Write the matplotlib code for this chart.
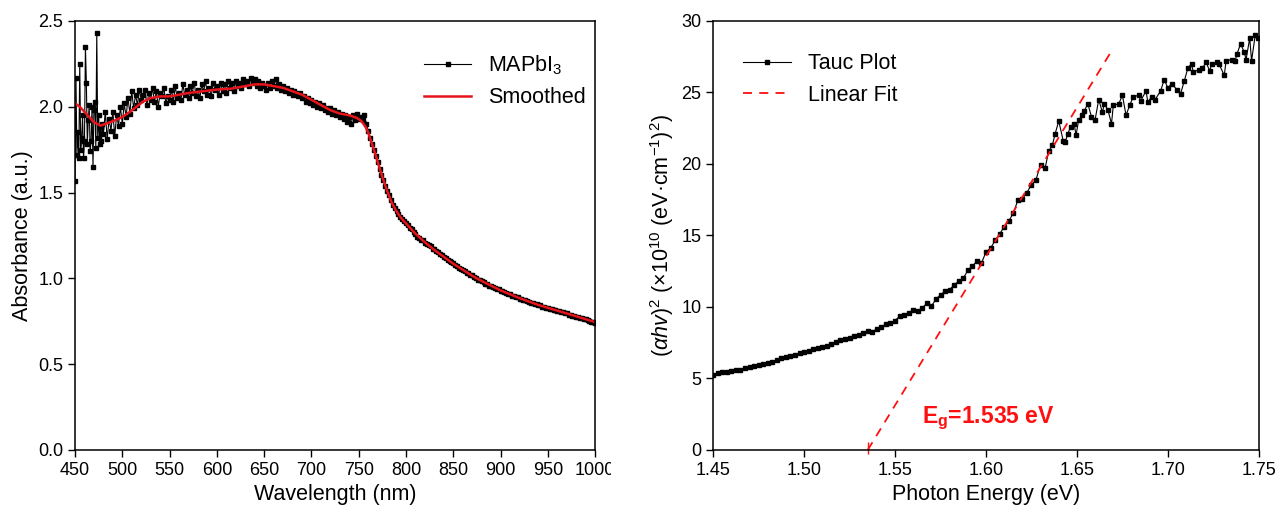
import numpy as np
import matplotlib.pyplot as plt
from matplotlib.transforms import Bbox, TransformedBbox

plt.rcParams['font.family'] = ['Liberation Sans', 'DejaVu Sans']
plt.rcParams['mathtext.fontset'] = 'custom'
plt.rcParams['mathtext.rm'] = 'Liberation Sans'
plt.rcParams['mathtext.it'] = 'Liberation Sans:italic'
plt.rcParams['mathtext.bf'] = 'Liberation Sans:bold'

# Absorbance spectrum (raw): 1 nm steps up to 479 nm, then 2 nm steps
wavelength = np.concatenate([np.arange(450, 480), np.arange(480, 1001, 2)])
absorbance = [
    1.57, 2.17, 1.72, 1.85, 1.70, 2.25, 1.75, 1.82, 1.95, 1.70,
    1.80, 2.35, 2.14, 1.78, 1.92, 2.01, 1.74, 1.80, 2.00, 1.65,
    1.98, 2.03, 1.76, 2.43, 1.82, 1.95, 1.78, 1.88, 1.80, 1.90,
    1.84, 1.97, 1.81, 1.93, 1.86, 1.97, 1.83, 1.95, 1.89, 2.00,
    1.90, 2.02, 1.94, 2.05, 1.96, 2.09, 1.99, 2.07, 2.01, 2.10, 2.04,
    2.07, 2.10, 2.01, 2.08, 2.04, 2.11, 2.03, 2.09, 2.00, 2.08,
    2.06, 2.11, 2.02, 2.06, 2.04, 2.10, 2.03, 2.12, 2.05, 2.08,
    2.04, 2.13, 2.07, 2.10, 2.05, 2.12, 2.08, 2.14, 2.06, 2.10,
    2.05, 2.13, 2.09, 2.15, 2.07, 2.11, 2.06, 2.14, 2.10, 2.12,
    2.07, 2.14, 2.09, 2.13, 2.08, 2.15, 2.11, 2.14, 2.09, 2.15,
    2.12, 2.14, 2.11, 2.16, 2.13, 2.15, 2.12, 2.17, 2.14, 2.16,
    2.12, 2.15, 2.11, 2.14, 2.12, 2.10, 2.14, 2.11, 2.15, 2.12,
    2.16, 2.11, 2.13, 2.10, 2.12, 2.09, 2.11, 2.08, 2.10, 2.07,
    2.09, 2.08, 2.06, 2.08, 2.05, 2.06, 2.03, 2.05, 2.02, 2.04,
    2.01, 2.03, 2.00, 2.02, 1.99, 2.01, 1.98, 1.99, 1.97, 1.99,
    1.96, 1.98, 1.95, 1.97, 1.94, 1.96, 1.93, 1.95, 1.91, 1.94,
    1.90, 1.95, 1.92, 1.96, 1.93,
    1.94, 1.92, 1.95, 1.90, 1.86, 1.82, 1.78, 1.75, 1.715, 1.68,
    1.64, 1.605, 1.575, 1.54, 1.51, 1.485, 1.455, 1.43, 1.41, 1.39,
    1.375, 1.36, 1.345, 1.335, 1.32,
    1.31, 1.296, 1.285, 1.27, 1.258, 1.243, 1.236, 1.224, 1.221, 1.208,
    1.203, 1.193, 1.187, 1.173, 1.171, 1.158, 1.152, 1.143, 1.137, 1.124,
    1.121, 1.108, 1.102, 1.093, 1.087, 1.078, 1.072, 1.063, 1.057, 1.048,
    1.042, 1.033, 1.031, 1.018, 1.017, 1.008, 1.002, 0.993, 0.991, 0.983,
    0.977, 0.968, 0.966, 0.958, 0.956, 0.948, 0.946, 0.938, 0.936, 0.928,
    0.926, 0.918, 0.916, 0.908, 0.906, 0.898, 0.898, 0.891, 0.889, 0.882,
    0.881, 0.873, 0.873, 0.866, 0.865, 0.858, 0.857, 0.850, 0.849, 0.843,
    0.842, 0.836, 0.835, 0.829, 0.829, 0.822, 0.822, 0.816, 0.816, 0.810,
    0.809, 0.803, 0.802, 0.796, 0.796, 0.789, 0.789, 0.782, 0.782, 0.776,
    0.775, 0.769, 0.768, 0.762, 0.761, 0.755, 0.754, 0.748, 0.747, 0.742,
]

# Smoothed curve
smooth_wl = [450, 455, 460, 465, 470, 477, 485, 492, 500, 508, 515, 522, 530, 540, 550, 560,
             570, 585, 600, 615, 630, 640, 650, 660, 670, 680, 690, 700, 710, 720, 730, 740,
             748, 753, 757, 760, 763, 766, 770, 775, 780, 785, 790, 795, 800, 810, 820, 830,
             840, 850, 860, 870, 880, 890, 900, 920, 940, 960, 980, 1000]
smooth_abs = [2.02, 2.00, 1.97, 1.94, 1.91, 1.89, 1.905, 1.92, 1.94, 1.97, 2.00, 2.03, 2.05, 2.06, 2.06, 2.07,
              2.08, 2.09, 2.10, 2.105, 2.12, 2.13, 2.13, 2.12, 2.11, 2.09, 2.07, 2.04, 2.01, 1.98, 1.96, 1.95,
              1.935, 1.915, 1.885, 1.85, 1.80, 1.75, 1.68, 1.59, 1.51, 1.44, 1.39, 1.35, 1.32, 1.26, 1.21, 1.165,
              1.125, 1.085, 1.05, 1.015, 0.985, 0.957, 0.930, 0.885, 0.845, 0.812, 0.779, 0.745]

# Tauc plot
energy = [
    1.4500, 1.4525, 1.4550, 1.4575, 1.4600, 1.4625, 1.4650, 1.4675, 1.4700, 1.4725,
    1.4750, 1.4775, 1.4800, 1.4825, 1.4850, 1.4875, 1.4900, 1.4925, 1.4950, 1.4975,
    1.5000, 1.5025, 1.5050, 1.5075, 1.5100, 1.5125, 1.5150, 1.5175, 1.5200, 1.5225,
    1.5250, 1.5275, 1.5300, 1.5325, 1.5350, 1.5375, 1.5400, 1.5425, 1.5450, 1.5475,
    1.5500, 1.5525, 1.5550, 1.5575, 1.5600, 1.5625, 1.5650, 1.5675, 1.5700, 1.5725,
    1.5750, 1.5775, 1.5800, 1.5825, 1.5850, 1.5875, 1.5900, 1.5925, 1.5950, 1.5975,
    1.6000, 1.6025, 1.6050, 1.6075, 1.6100, 1.6125, 1.6150, 1.6175, 1.6200, 1.6225,
    1.6250, 1.6275, 1.6300, 1.6325, 1.6345, 1.6365, 1.6380, 1.6400, 1.6425, 1.6435,
    1.6450, 1.6465, 1.6485, 1.6495, 1.6510, 1.6530, 1.6540, 1.6560, 1.6580, 1.6600,
    1.6620, 1.6640, 1.6650, 1.6670, 1.6690, 1.6700, 1.6730, 1.6750, 1.6770, 1.6790,
    1.6810, 1.6840, 1.6850, 1.6880, 1.6890, 1.6910, 1.6930, 1.6960, 1.6980, 1.7000,
    1.7020, 1.7050, 1.7070, 1.7090, 1.7110, 1.7130, 1.7140, 1.7170, 1.7190, 1.7210,
    1.7230, 1.7240, 1.7270, 1.7280, 1.7310, 1.7320, 1.7350, 1.7370, 1.7380, 1.7400,
    1.7420, 1.7430, 1.7450, 1.7460, 1.7480, 1.7495,
]
tauc = [
    5.25, 5.35, 5.42, 5.48, 5.52, 5.58, 5.62, 5.70, 5.78, 5.85,
    5.92, 5.98, 6.08, 6.18, 6.30, 6.45, 6.52, 6.55, 6.62, 6.75,
    6.85, 6.92, 7.05, 7.12, 7.20, 7.28, 7.40, 7.55, 7.68, 7.75,
    7.85, 7.98, 8.02, 8.15, 8.35, 8.25, 8.48, 8.62, 8.80, 8.85,
    9.05, 9.35, 9.42, 9.55, 9.80, 9.70, 9.95, 10.25, 10.05, 10.55,
    10.85, 11.10, 11.20, 11.55, 11.80, 12.00, 12.55, 12.85, 13.20, 13.05,
    13.85, 14.10, 14.65, 15.10, 15.60, 16.00, 16.55, 17.45, 17.55, 18.00,
    18.55, 18.90, 19.95, 19.70, 20.90, 21.30, 22.10, 23.00, 21.60, 21.50,
    22.10, 22.60, 22.80, 22.00, 23.10, 23.40, 23.70, 24.20, 23.30, 23.10,
    24.50, 23.60, 24.20, 23.80, 22.80, 24.10, 24.20, 24.80, 23.40, 24.10,
    24.70, 24.80, 24.40, 25.10, 24.30, 24.70, 24.50, 25.10, 25.90, 25.30,
    25.60, 25.20, 24.90, 25.80, 26.70, 27.00, 26.40, 26.60, 26.70, 27.10,
    26.50, 27.00, 27.10, 27.00, 26.20, 27.20, 27.30, 27.20, 27.70, 28.40,
    27.80, 27.30, 28.80, 27.20, 29.00, 28.80,
]

# Linear fit for band gap
fit_energy = [1.535, 1.670]
fit_value = [0.0, 28.1]
eg = 1.535

fig = plt.figure(figsize=(12.78, 5.17), dpi=100)
ax1 = fig.add_axes([0.0587, 0.1296, 0.407, 0.830])
ax2 = fig.add_axes([0.558, 0.1296, 0.427, 0.830])

lab_fs = 15.5
tick_fs = 13

# Left: absorbance
ax1.plot(wavelength, absorbance, color='black', lw=0.8, marker='s', ms=3, label='MAPbI$_3$')
ax1.plot(smooth_wl, smooth_abs, color='#e8141b', lw=1.8, label='Smoothed')
ax1.set_xlim(450, 1000)
ax1.set_ylim(0, 2.5)
ax1.set_xticks(np.arange(450, 1001, 50))
ax1.set_yticks(np.arange(0, 2.51, 0.5))
ax1.set_yticklabels(['0.0', '0.5', '1.0', '1.5', '2.0', '2.5'])
ax1.set_xlabel('Wavelength (nm)', fontsize=lab_fs)
ax1.set_ylabel('Absorbance (a.u.)', fontsize=lab_fs)
ax1.legend(loc='upper right', frameon=False, fontsize=lab_fs, handlelength=2.2,
           bbox_to_anchor=(1.02, 0.97))

# Right: Tauc plot
ax2.plot(energy, tauc, color='black', lw=0.8, marker='s', ms=3, label='Tauc Plot')
ax2.plot(fit_energy, fit_value, color='#ff1010', lw=1.3, ls=(0, (5, 4)), label='Linear Fit')
ax2.plot([eg], [0.15], marker='|', color='#ff1010', ms=8, clip_on=False)
ax2.text(1.565, 2.2, r'$\mathbf{E_g}$=1.535 eV', color='#ff1010', fontsize=16.5,
         fontweight='bold', va='center')
ax2.set_xlim(1.45, 1.75)
ax2.set_ylim(0, 30)
ax2.set_xticks(np.arange(1.45, 1.751, 0.05))
ax2.set_xticklabels(['1.45', '1.50', '1.55', '1.60', '1.65', '1.70', '1.75'])
ax2.set_yticks(np.arange(0, 31, 5))
ax2.set_xlabel('Photon Energy (eV)', fontsize=lab_fs)
ax2.set_ylabel(r'$(\mathit{\alpha h v})^2$ (×10$^{10}$ (eV·cm$^{-1}$)$^2$)', fontsize=lab_fs)
ax2.legend(loc='upper left', frameon=False, fontsize=lab_fs, handlelength=2.2,
           bbox_to_anchor=(0.02, 0.97))

for ax in (ax1, ax2):
    ax.tick_params(direction='out', length=5, width=1, labelsize=tick_fs)
    for s in ax.spines.values():
        s.set_linewidth(1.1)

# the left panel is cut just right of its frame, so the "1000" label is clipped
clip = TransformedBbox(Bbox([[0, 0], [611 / 1278, 1]]), fig.transFigure)
for lbl in ax1.get_xticklabels():
    lbl.set_clip_box(clip)
    lbl.set_clip_on(True)

fig.savefig('out.png', dpi=100)
